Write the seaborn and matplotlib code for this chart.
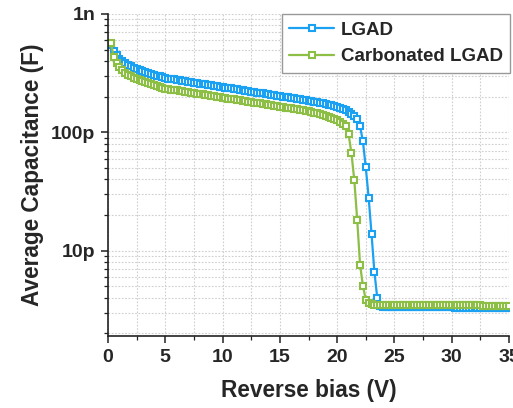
import numpy as np
import pandas as pd
import matplotlib
matplotlib.use("Agg")
import matplotlib.pyplot as plt
from matplotlib.ticker import FixedLocator, FixedFormatter, LogLocator, MultipleLocator, NullFormatter
import seaborn as sns

# Reverse bias sweep (V)
bias = np.arange(0.25, 35.001, 0.25)

# Average capacitance in pF
lgad_pF = [
    546, 486, 449, 420, 400, 384, 373, 362, 353, 345, 337, 330, 324, 317, 312, 306, 302, 297, 292,
    287.0, 284.5, 282.0, 279.6, 277.1, 274.7, 272.3, 269.9, 267.6, 265.3, 263.0, 260.7, 258.4, 256.2,
    253.9, 251.7, 249.5, 247.4, 245.2, 243.1, 241.0, 238.9, 236.8, 234.7, 232.7, 230.7, 228.7, 226.7,
    224.7, 222.7, 220.8, 218.9, 217.0, 215.1, 213.2, 211.4, 209.5, 207.7, 205.9, 204.1, 202.3, 200.6,
    198.8, 197.1, 195.4, 193.7, 192.0, 190.3, 188.7,
    186.7, 184.9, 183.1, 181.3, 179.5, 177.5, 175.4, 173.4, 171.0, 168.7, 166.1, 163.5, 160.6, 157.2,
    153.6, 149.2, 144.0, 137.9, 128.9, 112.4, 83.9, 50.5, 28.1, 13.9, 6.64, 4.00, 3.42, 3.35,
    3.34, 3.34, 3.34, 3.34, 3.34, 3.34, 3.33, 3.33, 3.33, 3.33, 3.33, 3.33, 3.32, 3.32, 3.32, 3.32,
    3.32, 3.32, 3.31, 3.31, 3.31, 3.31, 3.31, 3.31, 3.30, 3.30, 3.30, 3.30, 3.30, 3.30, 3.29, 3.29,
    3.29, 3.29, 3.29, 3.28, 3.28, 3.28, 3.28, 3.28, 3.27, 3.27, 3.27, 3.27,
]
carbon_pF = [
    568, 432, 384, 355, 335, 319, 307, 297, 288, 281, 275, 269, 264, 259, 254, 250, 246, 242, 238,
    233.8, 231.8, 229.8, 227.8, 225.8, 223.8, 221.9, 219.9, 218.0, 216.2, 214.3, 212.4, 210.5, 208.8,
    206.9, 205.1, 203.3, 201.6, 199.8, 198.1, 196.4, 194.7, 192.9, 191.2, 189.6, 188.0, 186.3, 184.7,
    183.1, 181.5, 179.9, 178.4, 176.8, 175.3, 173.7, 172.3, 170.7, 169.2, 167.8, 166.3, 164.8, 163.4,
    162.0, 160.6, 159.2, 157.8, 156.4, 155.1, 153.8,
    151.8, 150.1, 148.3, 146.3, 144.3, 142.1, 139.9, 137.5, 135.1, 132.4, 129.4, 126.4, 122.7, 118.5,
    112.4, 96.2, 66.4, 39.2, 18.3, 7.61, 5.05, 3.84, 3.59, 3.52,
    3.47, 3.47, 3.47, 3.47, 3.47, 3.47, 3.47, 3.47, 3.46, 3.46, 3.46, 3.46, 3.46, 3.46, 3.46, 3.46,
    3.46, 3.46, 3.45, 3.45, 3.45, 3.45, 3.45, 3.45, 3.45, 3.45, 3.45, 3.45, 3.44, 3.44, 3.44, 3.44,
    3.44, 3.44, 3.44, 3.44, 3.44, 3.44, 3.43, 3.43, 3.43, 3.43, 3.43, 3.43, 3.43, 3.43, 3.43, 3.43,
]
series_names = ["LGAD", "Carbonated LGAD"]
series_colors = ["#1BA1F2", "#8DBE45"]

y_ticks = [1e-11, 1e-10, 1e-9]
y_ticklabels = ["10p", "100p", "1n"]
x_ticks = [0, 5, 10, 15, 20, 25, 30, 35]

assert len(lgad_pF) == len(bias) and len(carbon_pF) == len(bias)

df = pd.DataFrame({
    "bias": np.concatenate([bias, bias]),
    "cap": np.concatenate([np.array(lgad_pF), np.array(carbon_pF)]) * 1e-12,
    "sample": [series_names[0]] * len(bias) + [series_names[1]] * len(bias),
})

sns.set_theme(style="white")
plt.rcParams["font.family"] = ["Liberation Sans", "DejaVu Sans"]
plt.rcParams["font.weight"] = "bold"

fig = plt.figure(figsize=(5.13, 4.08), dpi=100)
ax = fig.add_axes([108 / 513, 1 - 336 / 408, (509 - 108) / 513, (336 - 14) / 408])

for name, color in zip(series_names, series_colors):
    sub = df[df["sample"] == name]
    sns.lineplot(data=sub, x="bias", y="cap", ax=ax, color=color, lw=1.6,
                 marker="s", markersize=5.0, markerfacecolor="white",
                 markeredgecolor=color, markeredgewidth=1.5, label=name,
                 estimator=None, sort=False)

ax.set_yscale("log")
ax.set_xlim(0, 35)
ax.set_ylim(1.9e-12, 1e-9)

ax.yaxis.set_major_locator(FixedLocator(y_ticks))
ax.yaxis.set_major_formatter(FixedFormatter(y_ticklabels))
ax.yaxis.set_minor_locator(LogLocator(base=10, subs=np.arange(2, 10)))
ax.yaxis.set_minor_formatter(NullFormatter())
ax.xaxis.set_major_locator(FixedLocator(x_ticks))
ax.xaxis.set_minor_locator(MultipleLocator(2.5))

ax.grid(True, which="both", color="#cfcfcf", linestyle=(0, (1.5, 1.5)), linewidth=0.8)
ax.set_axisbelow(True)

for s in ["top", "right"]:
    ax.spines[s].set_visible(False)
for s in ["left", "bottom"]:
    ax.spines[s].set_color("#222222")
    ax.spines[s].set_linewidth(1.2)

ax.tick_params(axis="both", which="major", direction="out", length=5, width=1.1,
               color="#222222", labelsize=14, pad=4, left=True, bottom=True)
ax.tick_params(axis="both", which="minor", direction="out", length=3, width=0.9,
               color="#222222", left=True, bottom=True)
for lab in ax.get_xticklabels() + ax.get_yticklabels():
    lab.set_fontweight("bold")

ax.set_xlabel("Reverse bias (V)", fontsize=16.3, fontweight="bold", labelpad=10)
ax.set_ylabel("Average Capacitance (F)", fontsize=16.3, fontweight="bold", labelpad=5)

leg = ax.legend(loc="upper right", bbox_to_anchor=(1.003, 1.0), frameon=True, fancybox=False,
                edgecolor="#999999", framealpha=1, prop={"weight": "bold", "size": 13.5},
                handlelength=2.4, handletextpad=0.35, borderpad=0.4, labelspacing=0.5,
                borderaxespad=0.0)
leg.get_frame().set_linewidth(1.0)

fig.savefig("out.png", dpi=100)
